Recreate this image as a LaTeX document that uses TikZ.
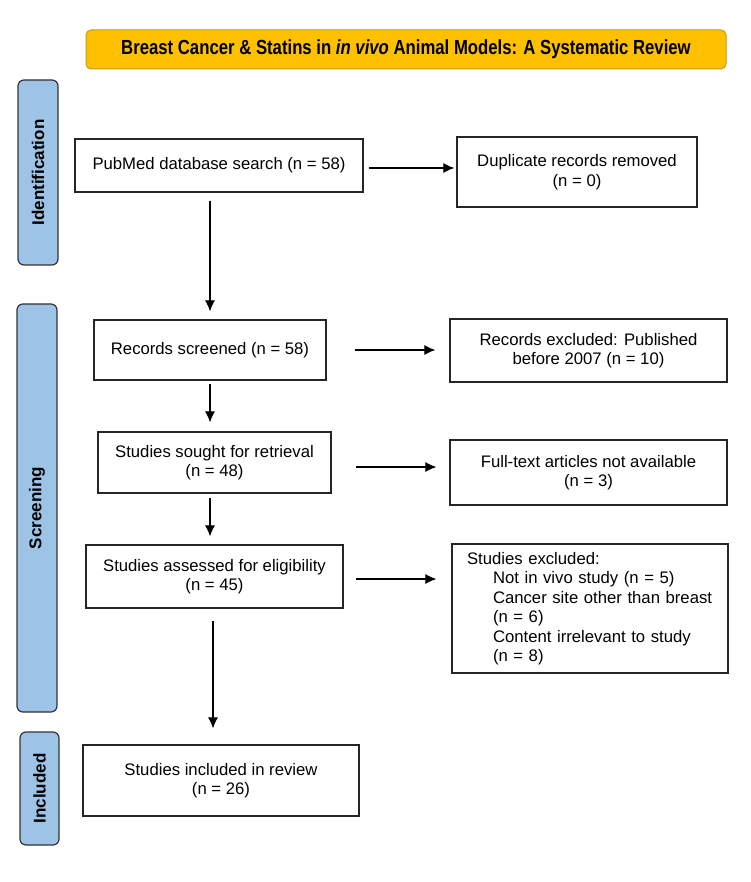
\documentclass[tikz,border=0pt]{standalone}
\usepackage{fontspec}
\setmainfont{Liberation Sans}
\newfontfamily\titlefont[FakeStretch=0.82]{Liberation Sans}
\usetikzlibrary{arrows.meta}

\definecolor{titlegold}{HTML}{FFC000}
\definecolor{titleedge}{HTML}{C99A06}
\definecolor{phaseblue}{HTML}{9DC3E6}
\definecolor{phaseedge}{HTML}{333333}

\tikzset{
	flowbox/.style={draw=black!85, line width=1.2pt, fill=white, align=center, inner sep=0pt,
		font=\fontsize{16.7}{19.5}\selectfont},
	phasebox/.style={draw=phaseedge, line width=1.2pt, fill=phaseblue, rounded corners=6pt,
		inner sep=0pt, rotate=90, font=\fontsize{17}{20}\selectfont\bfseries},
	flowarrow/.style={-{Latex[length=11pt,width=10pt]}, line width=1.1pt},
}

\begin{document}
\begin{tikzpicture}[x=1pt,y=-1pt]
	\useasboundingbox[fill=white] (0,0) rectangle (750,882);
	
	% 标题
	\node[draw=titleedge, line width=1pt, fill=titlegold, rounded corners=5pt,
		minimum width=640pt, minimum height=39pt, inner sep=0pt,
		font=\titlefont\fontsize{20.4}{24}\selectfont\bfseries] (title) at (406,49.5)
		{Breast Cancer \& Statins in \textit{in vivo} Animal Models: A Systematic Review};
	
	% 阶段标签
	\node[phasebox, minimum width=185pt, minimum height=40pt] (ident) at (38,172.5) {Identification};
	\node[phasebox, minimum width=408pt, minimum height=40pt] (screen) at (37,508) {Screening};
	\node[phasebox, minimum width=113pt, minimum height=39pt] (incphase) at (39.5,788.5) {Included};
	
	% 主流程
	\node[flowbox, minimum width=288pt, minimum height=53pt] (pub) at (219,165.5) {PubMed database search (n = 58)};
	\node[flowbox, minimum width=232pt, minimum height=60pt] (scr) at (210,350) {Records screened (n = 58)};
	\node[flowbox, minimum width=233pt, minimum height=61pt] (sought) at (214.5,462.5) {Studies sought for retrieval\\(n = 48)};
	\node[flowbox, minimum width=257pt, minimum height=63pt] (assess) at (214.5,576.5) {Studies assessed for eligibility\\(n = 45)};
	\node[flowbox, minimum width=276pt, minimum height=71pt] (incl) at (221,780.5) {Studies included in review\\(n = 26)};
	
	% 排除
	\node[flowbox, minimum width=240pt, minimum height=70pt] (dup) at (577,172) {Duplicate records removed\\(n = 0)};
	\node[flowbox, minimum width=277pt, minimum height=63pt] (excl1) at (588.5,350.5) {Records excluded: Published\\before 2007 (n = 10)};
	\node[flowbox, minimum width=277pt, minimum height=65pt] (excl2) at (588.5,472.5) {Full-text articles not available\\(n = 3)};
	\node[flowbox, align=left, text width=246pt, minimum width=276pt, minimum height=129pt] (excl3) at (590,608.5)
		{Studies excluded:\\
		\hspace*{26pt}Not in vivo study (n = 5)\\
		\hspace*{26pt}Cancer site other than breast\\
		\hspace*{26pt}(n = 6)\\
		\hspace*{26pt}Content irrelevant to study\\
		\hspace*{26pt}(n = 8)};
	
	% 箭头
	\draw[flowarrow] ([xshift=5pt,yshift=-2.5pt]pub.east) -- ([xshift=-2pt,yshift=-2.5pt]dup.west |- pub.east);
	\draw[flowarrow] ([yshift=-8pt]scr.north |- pub.south) -- ([yshift=8pt]scr.north);
	\draw[flowarrow] ([xshift=28pt]scr.east) -- ([xshift=-14pt]excl1.west |- scr.east);
	\draw[flowarrow] ([yshift=-3pt]scr.south) -- ([yshift=9pt]scr.south |- sought.north);
	\draw[flowarrow] ([xshift=24pt,yshift=-4.5pt]sought.east) -- ([xshift=-13pt,yshift=-4.5pt]excl2.west |- sought.east);
	\draw[flowarrow] ([yshift=-4pt]scr.south |- sought.south) -- ([yshift=8pt]scr.south |- assess.north);
	\draw[flowarrow] ([xshift=12pt,yshift=-2.5pt]assess.east) -- ([xshift=-15pt,yshift=-2.5pt]excl3.west |- assess.east);
	\draw[flowarrow] ([xshift=-1.5pt,yshift=-12pt]assess.south) -- ([xshift=-1.5pt,yshift=16pt]assess.south |- incl.north);
	
\end{tikzpicture}
\end{document}
